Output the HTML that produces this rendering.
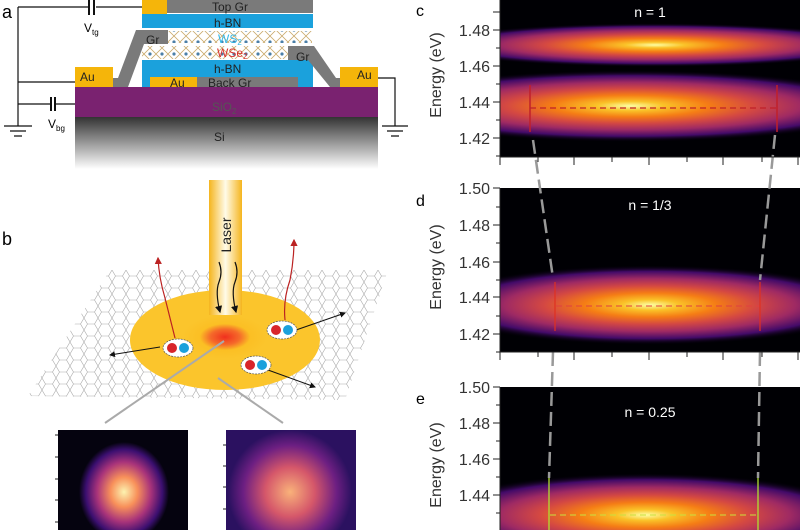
<!DOCTYPE html>
<html><head><meta charset="utf-8"><style>
html,body{margin:0;padding:0;background:#fff;width:800px;height:530px;overflow:hidden}
svg{display:block}
text{font-family:"Liberation Sans",sans-serif}
</style></head><body>
<svg width="800" height="530" viewBox="0 0 800 530" xmlns="http://www.w3.org/2000/svg" overflow="hidden">
<defs>
<radialGradient id="inf" cx="50%" cy="50%" r="50%">
<stop offset="0" stop-color="#fcffa4"/><stop offset="0.13" stop-color="#fac228"/><stop offset="0.3" stop-color="#f57d15"/><stop offset="0.48" stop-color="#d44842"/><stop offset="0.66" stop-color="#9f2a63"/><stop offset="0.84" stop-color="#420a68"/><stop offset="1" stop-color="#000004" stop-opacity="0"/>
</radialGradient>
<radialGradient id="img1" cx="50%" cy="50%" r="50%"><stop offset="0" stop-color="#fcf3b0"/><stop offset="0.3" stop-color="#f8905a"/><stop offset="0.6" stop-color="#a8337a"/><stop offset="0.85" stop-color="#3b0f70"/><stop offset="1" stop-color="#05030f"/></radialGradient>
<radialGradient id="img2" cx="50%" cy="50%" r="50%"><stop offset="0" stop-color="#f9b27a"/><stop offset="0.4" stop-color="#d5576a"/><stop offset="0.75" stop-color="#6d1f82"/><stop offset="1" stop-color="#2b1160"/></radialGradient>
<linearGradient id="si" x1="0" y1="0" x2="0" y2="1"><stop offset="0" stop-color="#333"/><stop offset="1" stop-color="#fff"/></linearGradient>
<linearGradient id="laser" x1="0" y1="0" x2="1" y2="0"><stop offset="0" stop-color="#f5b51e"/><stop offset="0.5" stop-color="#fffbe8"/><stop offset="1" stop-color="#f5b51e"/></linearGradient>
<radialGradient id="spot" cx="50%" cy="50%" r="50%"><stop offset="0" stop-color="#f0301e"/><stop offset="0.35" stop-color="#f56a2a"/><stop offset="0.6" stop-color="#fbbf24"/><stop offset="1" stop-color="#fbc52c"/></radialGradient>
<pattern id="hex" width="14" height="12" patternUnits="userSpaceOnUse">
<path d="M0,6 L3.5,0 L10.5,0 L14,6 L10.5,12 L3.5,12 Z" fill="none" stroke="#aaa" stroke-width="0.6"/>
</pattern>
<pattern id="lat" width="12" height="12" patternUnits="userSpaceOnUse"><path d="M0,6 L6,0 L12,6 L6,12Z" fill="none" stroke="#c9a96a" stroke-width="0.8"/><circle cx="6" cy="6" r="1.6" fill="#4a7fa8"/></pattern>
<marker id="ar" markerWidth="6" markerHeight="6" refX="5" refY="3" orient="auto"><path d="M0,0L6,3L0,6Z" fill="#111"/></marker>
<marker id="arr" markerWidth="6" markerHeight="6" refX="5" refY="3" orient="auto"><path d="M0,0L6,3L0,6Z" fill="#b22"/></marker>
<clipPath id="cc"><rect x="500" y="0" width="300" height="157"/></clipPath>
<clipPath id="cd"><rect x="500" y="188" width="300" height="164"/></clipPath>
<clipPath id="ce"><rect x="500" y="387" width="300" height="143"/></clipPath>
<clipPath id="ci1"><rect x="58" y="430" width="130" height="100"/></clipPath>
<clipPath id="ci2"><rect x="226" y="430" width="130" height="100"/></clipPath>
</defs>

<!-- Panel a -->
<text x="2" y="18" font-size="18">a</text>
<g stroke="#111" stroke-width="1.2" fill="none">
<path d="M18,7 H88 M96,7 H142"/><path d="M89,0 V15 M94,0 V15" stroke-width="2"/>
<path d="M18,7 V126"/><path d="M18,82 H75"/>
<path d="M18,104 H50 M56,104 H164 V87"/><path d="M51,97 V111 M55,97 V111" stroke-width="2"/>
<path d="M4,126 H32 M10,131 H26 M14,136 H22"/>
<path d="M378,78 H395 V126"/><path d="M382,126 H408 M387,131 H403 M391,136 H399"/>
</g>
<text x="84" y="32" font-size="12">V<tspan font-size="8" dy="3">tg</tspan></text>
<text x="48" y="128" font-size="12">V<tspan font-size="8" dy="3">bg</tspan></text>
<rect x="75" y="117" width="303" height="52" fill="url(#si)"/>
<rect x="75" y="87" width="303" height="30" fill="#7a2270"/>
<text x="212" y="111" font-size="12" fill="#555">SiO<tspan font-size="8" dy="3">2</tspan></text>
<text x="214" y="141" font-size="12" fill="#222">Si</text>
<rect x="142" y="0" width="25" height="14" fill="#f5b50a"/>
<rect x="167" y="0" width="146" height="13" fill="#7a7a7a"/>
<text x="212" y="11" font-size="12" fill="#222">Top Gr</text>
<rect x="142" y="14" width="171" height="14" fill="#1ba1dc"/>
<text x="214" y="27" font-size="12" fill="#222">h-BN</text>
<rect x="168" y="31" width="144" height="12" fill="url(#lat)"/>
<rect x="142" y="46" width="146" height="13" fill="url(#lat)"/>
<text x="218" y="43" font-size="12" fill="#36b8e8">WS<tspan font-size="8" dy="2">2</tspan></text>
<text x="217" y="57" font-size="12" fill="#d8302a">WSe<tspan font-size="8" dy="2">2</tspan></text>
<rect x="142" y="60" width="171" height="27" fill="#1ba1dc"/>
<text x="214" y="73" font-size="12" fill="#222">h-BN</text>
<rect x="150" y="77" width="47" height="10" fill="#f5b50a"/>
<rect x="197" y="77" width="101" height="10" fill="#7a7a7a"/>
<text x="170" y="87" font-size="12" fill="#222">Au</text>
<text x="208" y="87" font-size="12" fill="#222">Back Gr</text>
<path d="M136,30 H168 V44 H144 L128,87 H97 V78 H118 Z" fill="#7a7a7a"/>
<text x="146" y="44" font-size="12" fill="#222">Gr</text>
<path d="M288,46 H314 L336,78 H360 V87 H330 L308,60 H288 Z" fill="#7a7a7a"/>
<text x="296" y="61" font-size="12" fill="#222">Gr</text>
<rect x="75" y="67" width="38" height="20" fill="#f5b50a"/><text x="80" y="81" font-size="12" fill="#222">Au</text>
<rect x="340" y="67" width="38" height="20" fill="#f5b50a"/><text x="357" y="79" font-size="12" fill="#222">Au</text>

<!-- Panel b -->
<text x="2" y="245" font-size="18">b</text>
<polygon points="110,270 388,270 345,400 28,396" fill="url(#hex)"/>
<ellipse cx="225" cy="340" rx="95" ry="50" fill="#fbc52c"/>
<ellipse cx="225" cy="337" rx="42" ry="22" fill="url(#spot)"/>
<rect x="209" y="180" width="33" height="135" fill="url(#laser)"/>
<text transform="translate(231,235) rotate(-90)" font-size="14" text-anchor="middle" fill="#222">Laser</text>
<path d="M219,262 q4,10 0,20 q-4,10 1,30" stroke="#111" fill="none" stroke-width="1.2" marker-end="url(#ar)"/>
<path d="M235,262 q4,10 0,20 q-4,10 1,30" stroke="#111" fill="none" stroke-width="1.2" marker-end="url(#ar)"/>
<path d="M175,338 q-5,-20 -10,-40 q-6,-20 -7,-40" stroke="#b22" fill="none" stroke-width="1.2" marker-end="url(#arr)"/>
<path d="M285,320 q-2,-20 5,-40 q4,-20 4,-40" stroke="#b22" fill="none" stroke-width="1.2" marker-end="url(#arr)"/>
<line x1="160" y1="347" x2="110" y2="355" stroke="#111" marker-end="url(#ar)"/>
<line x1="296" y1="330" x2="345" y2="313" stroke="#111" marker-end="url(#ar)"/>
<line x1="268" y1="370" x2="315" y2="387" stroke="#111" marker-end="url(#ar)"/>
<g stroke="#555" stroke-dasharray="2,1" stroke-width="0.7" fill="#fff">
<ellipse cx="178" cy="348" rx="15" ry="9"/><ellipse cx="282" cy="330" rx="15" ry="9"/><ellipse cx="256" cy="365" rx="15" ry="9"/></g>
<g><circle cx="172" cy="348" r="5" fill="#d8252a"/><circle cx="184" cy="348" r="5" fill="#1ba1dc"/>
<circle cx="276" cy="330" r="5" fill="#d8252a"/><circle cx="288" cy="330" r="5" fill="#1ba1dc"/>
<circle cx="250" cy="365" r="5" fill="#d8252a"/><circle cx="262" cy="365" r="5" fill="#1ba1dc"/></g>
<line x1="224" y1="341" x2="105" y2="423" stroke="#aaa" stroke-width="2"/>
<line x1="218" y1="378" x2="283" y2="423" stroke="#aaa" stroke-width="2"/>
<rect x="58" y="430" width="130" height="100" fill="#05030f"/>
<ellipse cx="124" cy="492" rx="45" ry="50" fill="url(#img1)" clip-path="url(#ci1)"/>
<rect x="226" y="430" width="130" height="100" fill="#2b1160"/>
<ellipse cx="290" cy="492" rx="62" ry="62" fill="url(#img2)" clip-path="url(#ci2)"/>
<g stroke="#222"><path d="M58,435h-3M58,457h-3M58,479h-3M58,500h-3M58,522h-3M226,445h-3M226,466h-3M226,487h-3M226,509h-3"/></g>

<!-- Right panels -->
<g font-size="16">
<text x="416" y="16">c</text><text x="416" y="206">d</text><text x="416" y="404">e</text>
</g>
<rect x="500" y="0" width="300" height="157" fill="#000004"/>
<g clip-path="url(#cc)">
<ellipse cx="655" cy="45" rx="230" ry="22" fill="url(#inf)"/>
<ellipse cx="630" cy="106" rx="260" ry="36" fill="url(#inf)"/>
</g>
<text x="650" y="17" font-size="14" fill="#fff" text-anchor="middle">n = 1</text>
<line x1="530" y1="108" x2="778" y2="108" stroke="#c0202a" stroke-dasharray="6,4" stroke-width="1.2"/>
<line x1="530" y1="85" x2="530" y2="132" stroke="#c0202a" stroke-width="1.5"/>
<line x1="777" y1="85" x2="777" y2="132" stroke="#c0202a" stroke-width="1.5"/>
<rect x="500" y="188" width="300" height="164" fill="#000004"/>
<g clip-path="url(#cd)"><ellipse cx="650" cy="305" rx="220" ry="40" fill="url(#inf)"/></g>
<text x="650" y="210" font-size="14" fill="#fff" text-anchor="middle">n = 1/3</text>
<line x1="556" y1="306" x2="760" y2="306" stroke="#e04040" stroke-dasharray="6,4" stroke-width="1"/>
<line x1="555" y1="282" x2="555" y2="331" stroke="#e03020" stroke-width="1.2"/>
<line x1="760" y1="282" x2="760" y2="331" stroke="#e03020" stroke-width="1.2"/>
<rect x="500" y="387" width="300" height="143" fill="#000004"/>
<g clip-path="url(#ce)"><ellipse cx="645" cy="515" rx="220" ry="42" fill="url(#inf)"/></g>
<text x="650" y="417" font-size="14" fill="#fff" text-anchor="middle">n = 0.25</text>
<line x1="550" y1="515" x2="758" y2="515" stroke="#c8e040" stroke-dasharray="6,4" stroke-width="1"/>
<line x1="549" y1="478" x2="549" y2="530" stroke="#b0e030" stroke-width="1.3"/>
<line x1="758" y1="478" x2="758" y2="530" stroke="#b0e030" stroke-width="1.3"/>
<g stroke="#999" stroke-width="2.5" stroke-dasharray="14,6" fill="none">
<path d="M533,140 L553,278"/><path d="M553,352 L549,478"/>
<path d="M775,135 L760,280"/><path d="M760,352 L758,478"/>
</g>
<g stroke="#222" stroke-width="1">
<path d="M500,0V157M500,188V352M500,387V530"/>
<path d="M500,157H800M500,352H800"/>
<path d="M493,12h7M493,30h7M496,48h4M493,66h7M496,84h4M493,102h7M496,120h4M493,138h7M496,156h4"/>
<path d="M493,188h7M496,207h4M493,225h7M496,243h4M493,262h7M496,280h4M493,297h7M496,316h4M493,334h7M496,352h4"/>
<path d="M493,387h7M496,405h4M493,423h7M496,441h4M493,459h7M496,477h4M493,495h7M496,513h4"/>
<path d="M500,157v8M538,157v5M574,157v8M612,157v5M649,157v8M687,157v5M723,157v8M762,157v5M798,157v8"/>
<path d="M500,352v8M538,352v5M574,352v8M612,352v5M649,352v8M687,352v5M723,352v8M762,352v5M798,352v8"/>
</g>
<g font-size="16" fill="#333" text-anchor="end">
<text x="490" y="36">1.48</text><text x="490" y="72">1.46</text><text x="490" y="108">1.44</text><text x="490" y="144">1.42</text>
<text x="490" y="194">1.50</text><text x="490" y="231">1.48</text><text x="490" y="268">1.46</text><text x="490" y="303">1.44</text><text x="490" y="340">1.42</text>
<text x="490" y="393">1.50</text><text x="490" y="429">1.48</text><text x="490" y="465">1.46</text><text x="490" y="501">1.44</text>
</g>
<g font-size="16" fill="#333" text-anchor="middle">
<text transform="translate(441,75) rotate(-90)">Energy (eV)</text>
<text transform="translate(441,267) rotate(-90)">Energy (eV)</text>
<text transform="translate(441,465) rotate(-90)">Energy (eV)</text>
</g>
</svg>
</body></html>
